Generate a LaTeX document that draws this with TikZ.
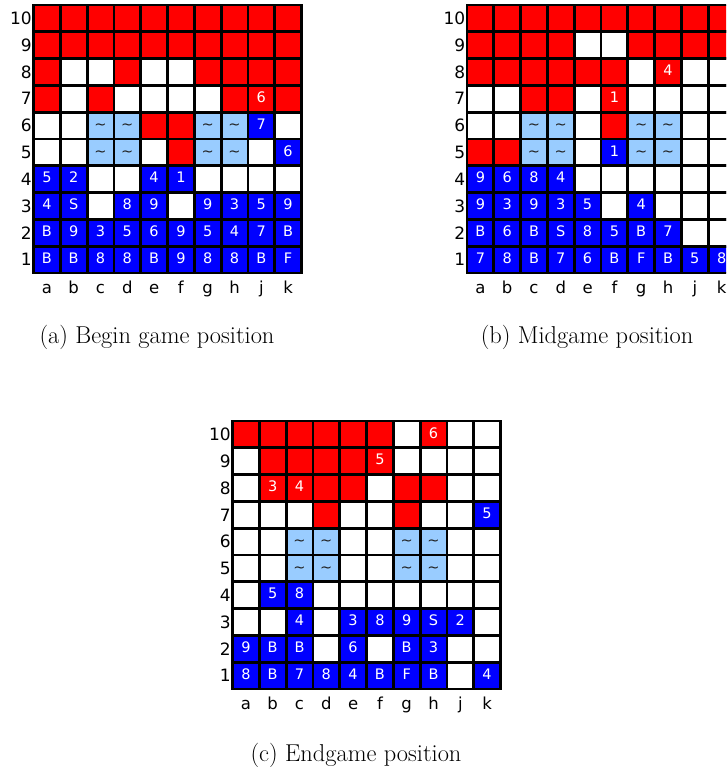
\documentclass[tikz,border=0pt]{standalone}
\usepackage{fontspec}
\newfontfamily\dvs{DejaVu Sans}
\definecolor{colr}{HTML}{FF0000}
\definecolor{colb}{HTML}{0000FF}
\definecolor{colw}{HTML}{FFFFFF}
\definecolor{coll}{HTML}{99CCFF}
\definecolor{txtr}{HTML}{FFFFFF}
\definecolor{txtb}{HTML}{FFFFFF}
\definecolor{txtw}{HTML}{000000}
\definecolor{txtl}{HTML}{202020}
\def\parsecell#1#2\relax{\def\cellc{#1}\def\celltxt{#2}}
\tikzset{
  cellbox/.style={draw=black, line width=2.8pt, minimum width=26.8pt, minimum height=26.8pt,
    inner sep=0pt, text height=0.729em, text depth=0pt, font=\dvs\fontsize{14.5}{16}\selectfont},
  rowlab/.style={anchor=east, inner sep=0pt, font=\dvs\fontsize{17}{19}\selectfont},
  collab/.style={anchor=base, inner sep=0pt, font=\dvs\fontsize{16.5}{19}\selectfont},
  caption/.style={anchor=base, inner sep=0pt, font=\fontsize{24.4}{28}\selectfont}
}
\newcommand\drawboard[4]{%
  \foreach \row [count=\ri] in {#4} {%
    \foreach \k [count=\ci] in \row {%
      \expandafter\parsecell\k\relax
      \if l\cellc \def\celltxt{\textasciitilde}\fi
      \node[cellbox, fill=col\cellc, text=txt\cellc] (#1-\ci-\ri)
        at ({#2+(\ci-0.5)*26.8},{#3+(\ri-0.5)*26.8}) {\celltxt};
    }
    \pgfmathtruncatemacro\rl{11-\ri}
    \node[rowlab] (#1-row\ri) at ({#2-1.5},{#3+(\ri-0.5)*26.8}) {\rl};
  }
  \foreach \l [count=\ci] in {a,b,c,d,e,f,g,h,j,k} {%
    \node[collab] (#1-col\ci) at ({#2+(\ci-0.5)*26.8},{#3+288}) {\l};
  }
}
\begin{document}
\begin{tikzpicture}[x=1pt,y=-1pt]
\clip (0,0) rectangle (726,767);
\useasboundingbox (0,0) rectangle (726,767);
\drawboard{A}{33.5}{5}{%
{r,r,r,r,r,r,r,r,r,r},%
{r,r,r,r,r,r,r,r,r,r},%
{r,w,w,r,w,w,r,r,r,r},%
{r,w,r,w,w,w,w,r,r6,r},%
{w,w,l,l,r,r,l,l,b7,w},%
{w,w,l,l,w,r,l,l,w,b6},%
{b5,b2,w,w,b4,b1,w,w,w,w},%
{b4,bS,w,b8,b9,w,b9,b3,b5,b9},%
{bB,b9,b3,b5,b6,b9,b5,b4,b7,bB},%
{bB,bB,b8,b8,bB,b9,b8,b8,bB,bF}}
\drawboard{Bd}{467}{5}{%
{r,r,r,r,r,r,r,r,r,r},%
{r,r,r,r,w,w,r,r,r,r},%
{r,r,r,r,r,r,w,r4,w,w},%
{w,w,r,r,w,r1,w,w,w,w},%
{w,w,l,l,w,r,l,l,w,w},%
{r,r,l,l,w,b1,l,l,w,w},%
{b9,b6,b8,b4,w,w,w,w,w,w},%
{b9,b3,b9,b3,b5,w,b4,w,w,w},%
{bB,b6,bB,bS,b8,b5,bB,b7,w,w},%
{b7,b8,bB,b7,b6,bB,bF,bB,b5,b8}}
\drawboard{C}{232.5}{421}{%
{r,r,r,r,r,r,w,r6,w,w},%
{w,r,r,r,r,r5,w,w,w,w},%
{w,r3,r4,r,r,w,r,r,w,w},%
{w,w,w,r,w,w,r,w,w,b5},%
{w,w,l,l,w,w,l,l,w,w},%
{w,w,l,l,w,w,l,l,w,w},%
{w,b5,b8,w,w,w,w,w,w,w},%
{w,w,b4,w,b3,b8,b9,bS,b2,w},%
{b9,bB,bB,w,b6,w,bB,b3,w,w},%
{b8,bB,b7,b8,b4,bB,bF,bB,w,b4}}
\node[caption] (capa) at (157,343) {(a) Begin game position};
\node[caption] (capb) at (587,343) {(b) Midgame position};
\node[caption] (capc) at (356,761) {(c) Endgame position};
\end{tikzpicture}
\end{document}
